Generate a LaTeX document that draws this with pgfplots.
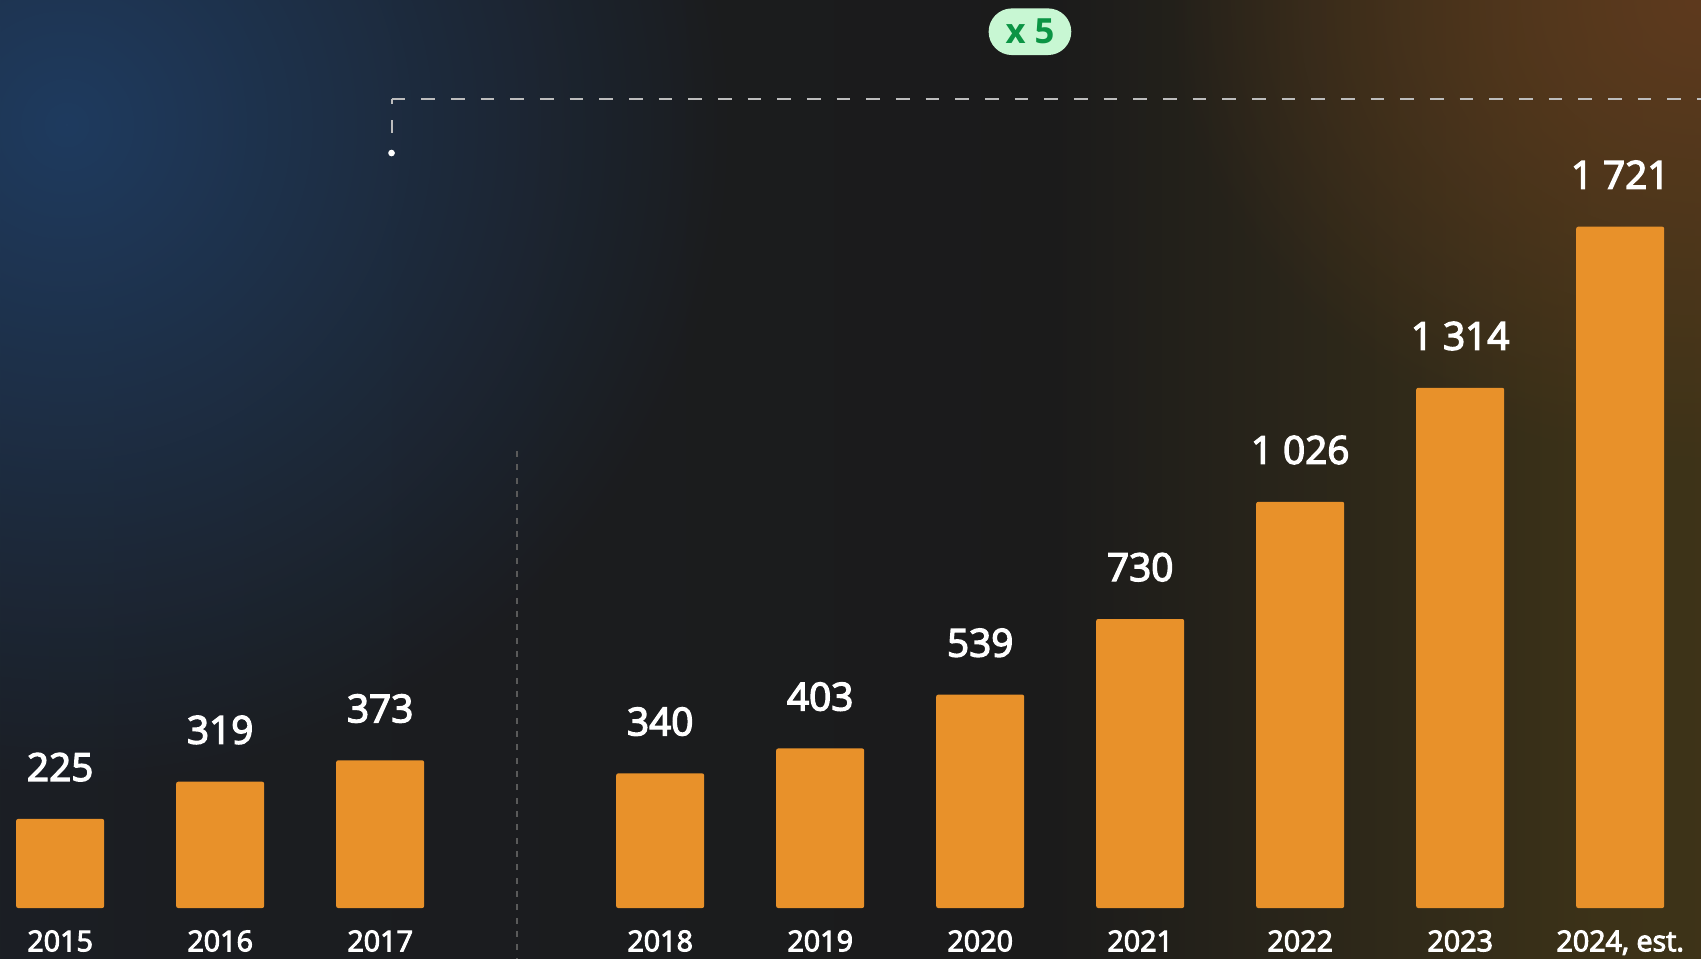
\documentclass[border=0pt]{standalone}
\usepackage{pgfplots}
\pgfplotsset{compat=1.18}
\usetikzlibrary{fadings}
\usepackage{fontspec}
\setmainfont{Open Sans}
\newfontfamily\medfont{Open Sans}[FakeBold=3.5]
\newfontfamily\boldfont{Open Sans Bold}

\definecolor{barorange}{HTML}{E8912A}
\definecolor{bgA}{HTML}{1B2636}
\definecolor{bgB}{HTML}{1B1D21}
\definecolor{bgC}{HTML}{1B1B1B}
\definecolor{bgD}{HTML}{3C3218}
\definecolor{bgE}{HTML}{4B3D1C}
\definecolor{glowblue}{HTML}{1F3B5F}
\definecolor{glowbrown}{HTML}{5E3A1E}
\definecolor{badgefill}{HTML}{C8F7D3}
\definecolor{badgetext}{HTML}{0B9444}
\definecolor{dashgrey}{HTML}{BDBDBD}
\definecolor{sepgrey}{HTML}{5A5A5A}

\pgfdeclarehorizontalshading{bgshade}{100bp}{color(0bp)=(bgA); color(30bp)=(bgB); color(56bp)=(bgC); color(72bp)=(bgD); color(100bp)=(bgE)}
\tikzfading[name=glowfade, inner color=transparent!0, outer color=transparent!100]

\begin{document}
\begin{tikzpicture}
  % background, 1 px of the reference = 0.3pt
  \shade[shading=bgshade] (0,0) rectangle (510.3pt,287.4pt);
  \begin{scope}
    \clip (0,0) rectangle (510.3pt,287.4pt);
    \fill[glowblue, path fading=glowfade, fit fading=true] (20pt,250pt) ellipse (200pt and 200pt);
    \fill[glowbrown, path fading=glowfade, fit fading=true] (510pt,287pt) ellipse (160pt and 140pt);
  \end{scope}

  \begin{axis}[
      at={(0,0)}, anchor=south west,
      width=510.3pt, height=287.4pt, scale only axis,
      xmin=-0.376, xmax=10.255, ymin=-126.3, ymax=2293.5,
      axis line style={draw=none}, tick style={draw=none},
      ytick=\empty,
      xtick={0,1,2,3.75,4.75,5.75,6.75,7.75,8.75,9.75},
      xticklabels={2015,2016,2017,2018,2019,2020,2021,2022,2023,{2024, est.}},
      xticklabel style={anchor=base, yshift=6.3pt, font=\medfont\fontsize{8.6pt}{9pt}\selectfont, text=white},
      ybar, bar width=26.4pt,
      nodes near coords, point meta=explicit symbolic,
      nodes near coords style={anchor=base, yshift=11.4pt, font=\medfont\fontsize{11.6pt}{13pt}\selectfont, text=white},
      clip=false,
    ]
    \addplot[fill=barorange, draw=none, rounded corners=0.6pt] coordinates {
      (0,225) [225]
      (1,319) [319]
      (2,373) [373]
      (3.75,340) [340]
      (4.75,403) [403]
      (5.75,539) [539]
      (6.75,730) [730]
      (7.75,1026) [1 026]
      (8.75,1314) [1 314]
      (9.75,1721) [1 721]
    };

    % separator between 2017 and 2018
    \draw[sepgrey, line width=0.4pt, dash pattern=on 1.8pt off 2.2pt] (axis cs:2.855,1154) -- (axis cs:2.855,-126.3);
    % growth bracket
    \draw[dashgrey, line width=0.6pt, dash pattern=on 4.1pt off 4.8pt] (axis cs:2.071,2043.4) -- (axis cs:10.255,2043.4);
    \draw[dashgrey, line width=0.6pt] (axis cs:2.071,2043.4) -- (axis cs:2.071,2030.8);
    \draw[dashgrey, line width=0.6pt] (axis cs:2.071,1990.4) -- (axis cs:2.071,1957.6);
    \fill[white] (axis cs:2.071,1907) circle (1pt);
    \node[fill=badgefill, text=badgetext, rounded corners=7pt, minimum width=24.8pt, minimum height=14pt, inner sep=0pt,
      font=\boldfont\fontsize{10.4pt}{11pt}\selectfont] at (axis cs:6.061,2213.4) {x 5};
  \end{axis}
  \pgfresetboundingbox
  \useasboundingbox (0,0) rectangle (510.3pt,287.4pt);
\end{tikzpicture}
\end{document}
